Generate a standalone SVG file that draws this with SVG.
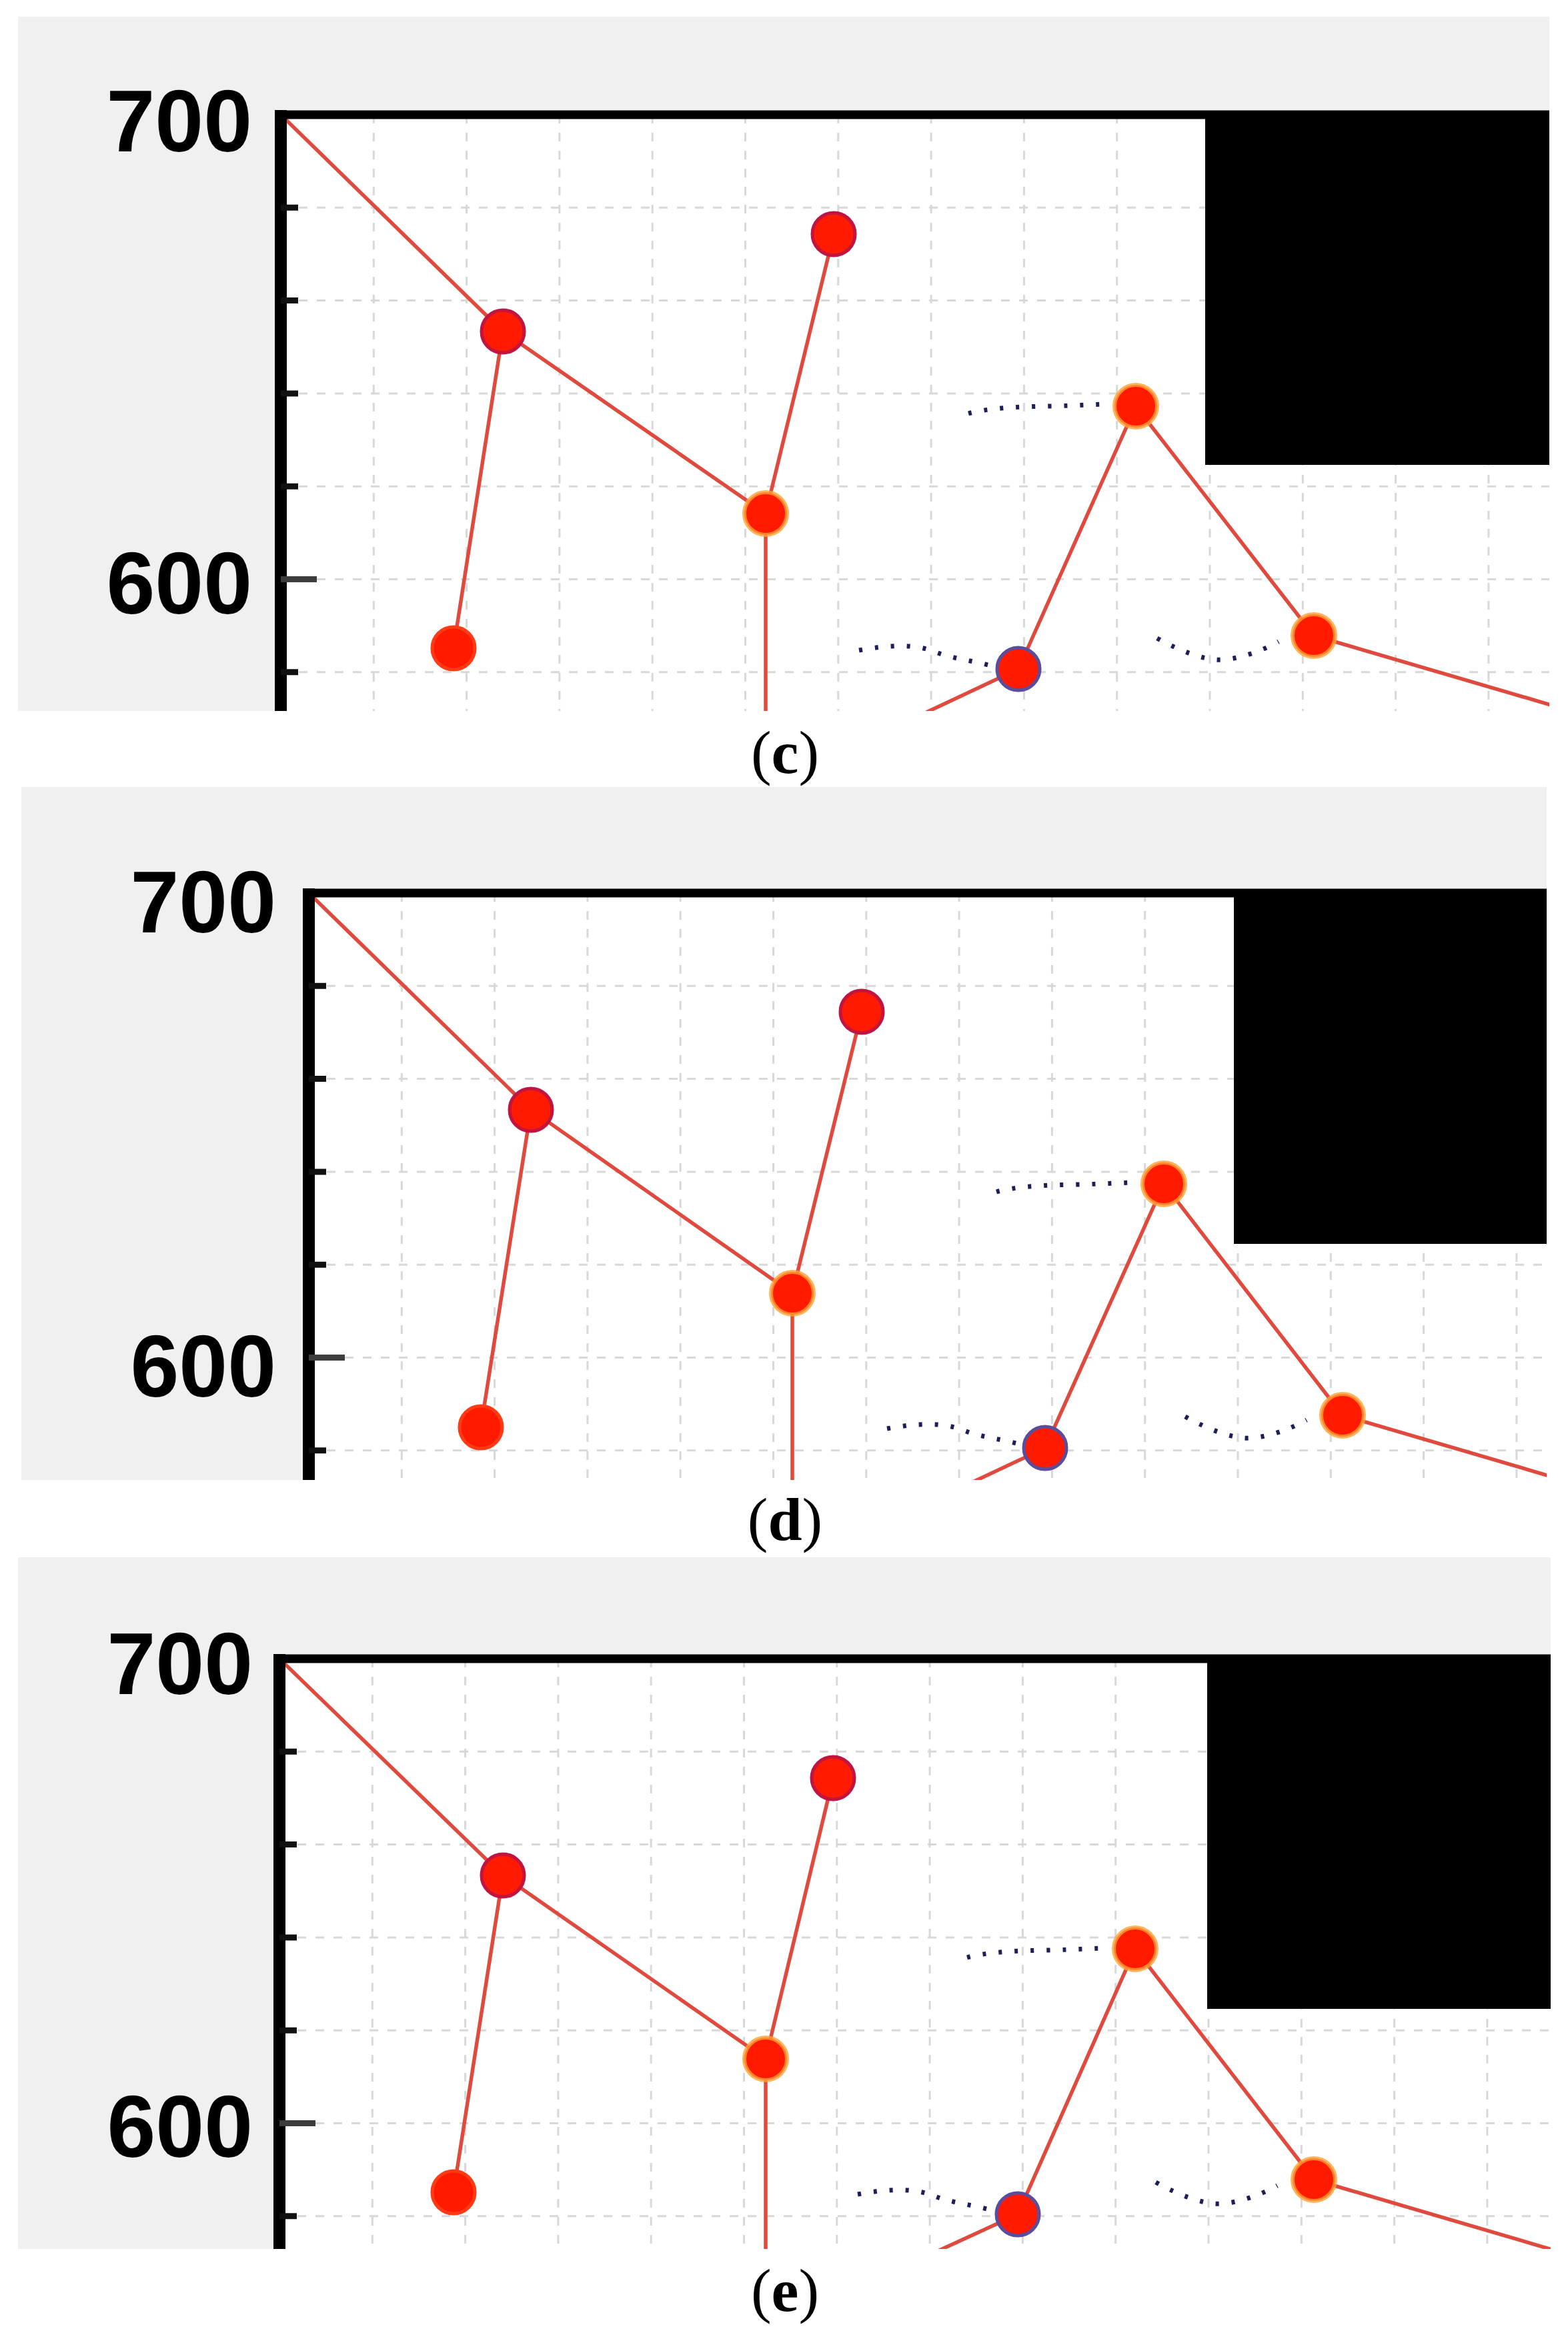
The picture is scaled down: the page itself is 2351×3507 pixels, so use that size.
<svg xmlns="http://www.w3.org/2000/svg" width="2351" height="3507" viewBox="0 0 2351 3507">
<defs>
<style>
.bg{fill:#f0f0f0}
.plot{fill:#fff}
.grid{fill:none;stroke:#d8d8d8;stroke-width:3;stroke-dasharray:13 14}
.obs{fill:#000}
.edge{fill:none;stroke:#e04a3e;stroke-width:5.5;stroke-linecap:round}
.trail{fill:none;stroke:#1e1e58;stroke-width:7;stroke-dasharray:5 19}
.nd{fill:#ff1a00;stroke-width:5}
.crim{stroke:#c21440}
.org{stroke:#ffa035;stroke-opacity:.8;stroke-width:6}
.blu{stroke:#5c4c9c}
.pln{stroke:#ff3a14}
.axis{fill:none;stroke:#000}
.tick{stroke:#111;stroke-width:9}
.tick6{stroke:#3c3c3c;stroke-width:9}
.ax{font-family:"Liberation Sans",Arial,sans-serif;font-weight:bold;font-size:131px;fill:#000;text-anchor:end}
.lbl{font-family:"Liberation Serif","Times New Roman",serif;font-size:92px;fill:#000;text-anchor:middle}
</style>
<clipPath id="clip-c"><rect width="1902" height="894"/></clipPath>
<clipPath id="clip-d"><rect width="1856" height="880"/></clipPath>
<clipPath id="clip-e"><rect width="1906" height="885"/></clipPath>
</defs>
<rect width="2351" height="3507" fill="#fff"/>

<!-- Panel (c) -->
<g id="panel-c">
<rect class="bg" x="27" y="25" width="2296" height="1041"/>
<text class="ax" x="378" y="227">700</text>
<text class="ax" x="378" y="920">600</text>
<g transform="translate(421,172)">
<rect class="plot" width="1902" height="894"/>
<g clip-path="url(#clip-c)">
<path class="grid" d="M0,139.3H2000M0,278.6H2000M0,417.9H2000M0,557.2H2000M0,696.5H2000M0,835.8H2000M139.3,0V1000M278.6,0V1000M417.9,0V1000M557.2,0V1000M696.5,0V1000M835.8,0V1000M975.1,0V1000M1114.4,0V1000M1253.7,0V1000M1393,0V1000M1532.3,0V1000M1671.6,0V1000M1810.9,0V1000"/>
<rect id="c-obstacle" class="obs" x="1386" y="-10" width="600" height="535"/>
<g id="c-trails">
<path class="trail" d="M1031,448 C1060,440 1100,438 1150,437 S1220,434 1244,434"/>
<path class="trail" d="M867,803 C910,795 950,793 980,805 S1040,818 1075,829"/>
<path class="trail" d="M1314,785 C1350,805 1380,815 1401,817 S1460,810 1496,790"/>
</g>
<g id="c-connectors">
<path class="edge" d="M0,0 L333,325 L727,598"/>
<path class="edge" d="M333,325 L259,800"/>
<path class="edge" d="M727,598 L829,179"/>
<path class="edge" d="M727,598 L727,1000"/>
<path class="edge" d="M900,928 L1106,831 L1282,437 L1549,781 L2000,913"/>
</g>
<g id="c-n1"><circle class="nd crim" cx="333" cy="325" r="32"/></g>
<g id="c-n2"><circle class="nd pln" cx="259" cy="800" r="32"/></g>
<g id="c-n3"><circle class="nd org" cx="727" cy="598" r="32"/></g>
<g id="c-n4"><circle class="nd crim" cx="829" cy="179" r="32"/></g>
<g id="c-n5"><circle class="nd org" cx="1282" cy="437" r="32"/></g>
<g id="c-n6"><circle class="nd blu" cx="1106" cy="831" r="32"/></g>
<g id="c-n7"><circle class="nd org" cx="1549" cy="781" r="32"/></g>
</g>
<path class="axis" stroke-width="18" d="M0,-7V894"/>
<path class="axis" stroke-width="13" d="M-9,0H1902"/>
<path class="tick" d="M0,139.3H26M0,278.6H26M0,417.9H26M0,557.2H26M0,835.8H26"/>
<path class="tick6" d="M0,696.5H54"/>
</g>
<text class="lbl" x="1177" y="1159">(<tspan font-weight="bold">c</tspan>)</text>
</g>

<!-- Panel (d) -->
<g id="panel-d">
<rect class="bg" x="32" y="1180" width="2287" height="1039"/>
<text class="ax" x="414" y="1398">700</text>
<text class="ax" x="414" y="2094">600</text>
<g transform="translate(463,1339)">
<rect class="plot" width="1856" height="880"/>
<g clip-path="url(#clip-d)">
<path class="grid" d="M0,139.3H2000M0,278.6H2000M0,417.9H2000M0,557.2H2000M0,696.5H2000M0,835.8H2000M139.3,0V1000M278.6,0V1000M417.9,0V1000M557.2,0V1000M696.5,0V1000M835.8,0V1000M975.1,0V1000M1114.4,0V1000M1253.7,0V1000M1393,0V1000M1532.3,0V1000M1671.6,0V1000M1810.9,0V1000"/>
<rect id="d-obstacle" class="obs" x="1387" y="-10" width="600" height="536"/>
<g id="d-trails">
<path class="trail" d="M1031,448 C1060,440 1100,438 1150,437 S1220,434 1244,434"/>
<path class="trail" d="M867,803 C910,795 950,793 980,805 S1040,818 1075,829"/>
<path class="trail" d="M1314,785 C1350,805 1380,815 1401,817 S1460,810 1496,790"/>
</g>
<g id="d-connectors">
<path class="edge" d="M0,0 L333,325 L725,600"/>
<path class="edge" d="M333,325 L258,801"/>
<path class="edge" d="M725,600 L829,178"/>
<path class="edge" d="M725,600 L725,1000"/>
<path class="edge" d="M900,928 L1104,832 L1282,436 L1550,783 L2000,915"/>
</g>
<g id="d-n1"><circle class="nd crim" cx="333" cy="325" r="32"/></g>
<g id="d-n2"><circle class="nd pln" cx="258" cy="801" r="32"/></g>
<g id="d-n3"><circle class="nd org" cx="725" cy="600" r="32"/></g>
<g id="d-n4"><circle class="nd crim" cx="829" cy="178" r="32"/></g>
<g id="d-n5"><circle class="nd org" cx="1282" cy="436" r="32"/></g>
<g id="d-n6"><circle class="nd blu" cx="1104" cy="832" r="32"/></g>
<g id="d-n7"><circle class="nd org" cx="1550" cy="783" r="32"/></g>
</g>
<path class="axis" stroke-width="18" d="M0,-7V880"/>
<path class="axis" stroke-width="13" d="M-9,0H1856"/>
<path class="tick" d="M0,139.3H26M0,278.6H26M0,417.9H26M0,557.2H26M0,835.8H26"/>
<path class="tick6" d="M0,696.5H54"/>
</g>
<text class="lbl" x="1177" y="2309">(<tspan font-weight="bold">d</tspan>)</text>
</g>

<!-- Panel (e) -->
<g id="panel-e">
<rect class="bg" x="27" y="2335" width="2298" height="1037"/>
<text class="ax" x="379" y="2540">700</text>
<text class="ax" x="379" y="3234">600</text>
<g transform="translate(419,2487)">
<rect class="plot" width="1906" height="885"/>
<g clip-path="url(#clip-e)">
<path class="grid" d="M0,139.3H2000M0,278.6H2000M0,417.9H2000M0,557.2H2000M0,696.5H2000M0,835.8H2000M139.3,0V1000M278.6,0V1000M417.9,0V1000M557.2,0V1000M696.5,0V1000M835.8,0V1000M975.1,0V1000M1114.4,0V1000M1253.7,0V1000M1393,0V1000M1532.3,0V1000M1671.6,0V1000M1810.9,0V1000"/>
<rect id="e-obstacle" class="obs" x="1391" y="-10" width="600" height="535"/>
<g id="e-trails">
<path class="trail" d="M1031,448 C1060,440 1100,438 1150,437 S1220,434 1244,434"/>
<path class="trail" d="M867,803 C910,795 950,793 980,805 S1040,818 1075,829"/>
<path class="trail" d="M1314,785 C1350,805 1380,815 1401,817 S1460,810 1496,790"/>
</g>
<g id="e-connectors">
<path class="edge" d="M0,0 L335,325 L729,600"/>
<path class="edge" d="M335,325 L261,800"/>
<path class="edge" d="M729,600 L830,179"/>
<path class="edge" d="M729,600 L729,1000"/>
<path class="edge" d="M900,928 L1107,833 L1283,435 L1551,781 L2000,913"/>
</g>
<g id="e-n1"><circle class="nd crim" cx="335" cy="325" r="32"/></g>
<g id="e-n2"><circle class="nd pln" cx="261" cy="800" r="32"/></g>
<g id="e-n3"><circle class="nd org" cx="729" cy="600" r="32"/></g>
<g id="e-n4"><circle class="nd crim" cx="830" cy="179" r="32"/></g>
<g id="e-n5"><circle class="nd org" cx="1283" cy="435" r="32"/></g>
<g id="e-n6"><circle class="nd blu" cx="1107" cy="833" r="32"/></g>
<g id="e-n7"><circle class="nd org" cx="1551" cy="781" r="32"/></g>
</g>
<path class="axis" stroke-width="18" d="M0,-7V885"/>
<path class="axis" stroke-width="13" d="M-9,0H1906"/>
<path class="tick" d="M0,139.3H26M0,278.6H26M0,417.9H26M0,557.2H26M0,835.8H26"/>
<path class="tick6" d="M0,696.5H54"/>
</g>
<text class="lbl" x="1177" y="3465">(<tspan font-weight="bold">e</tspan>)</text>
</g>
</svg>
